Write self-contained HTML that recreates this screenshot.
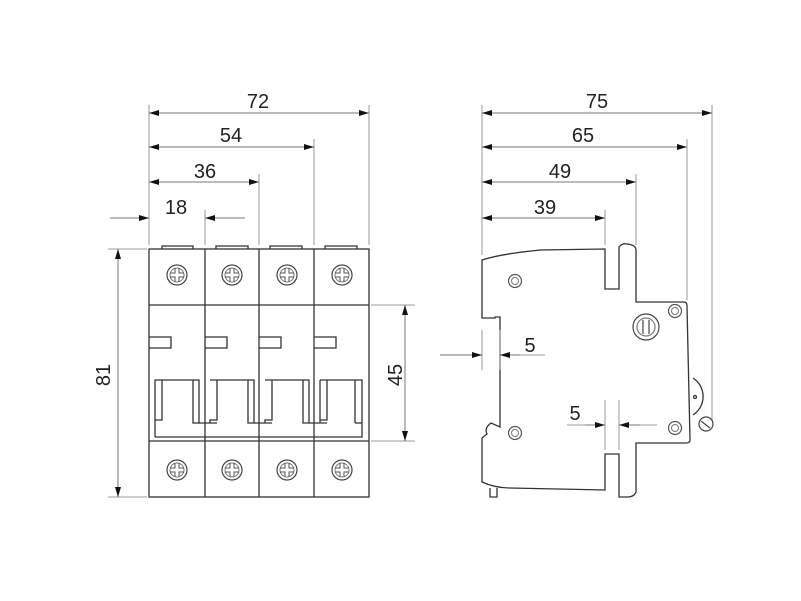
<!DOCTYPE html>
<html><head><style>body{margin:0;background:#fff}svg{display:block}text{font-family:"Liberation Sans",sans-serif;font-size:20px;fill:#222}</style></head>
<body>
<svg width="801" height="601" viewBox="0 0 801 601" xmlns="http://www.w3.org/2000/svg">
<defs>
<marker id="a" viewBox="0 0 10 6" refX="10" refY="3" markerWidth="10" markerHeight="6" orient="auto-start-reverse" markerUnits="userSpaceOnUse"><path d="M0,0L10,3L0,6z" fill="#111"/></marker>
<g id="scr"><circle r="10" fill="#fff" stroke="#444" stroke-width="1.2"/><circle r="7" fill="none" stroke="#777" stroke-width="1"/><path d="M-2,-7V-2H-7M2,-7V-2H7M-2,7V2H-7M2,7V2H7" fill="none" stroke="#555" stroke-width="1"/></g>
<g id="ring"><circle r="6.5" fill="#fff" stroke="#555" stroke-width="1.2"/><circle r="3.5" fill="none" stroke="#777" stroke-width="1"/></g>
</defs>
<g stroke="#999" stroke-width="1" fill="none">
<path d="M149,105V245M205,210V245M259,174V245M314,139V245M369,105V245"/>
<path d="M108,249H147M108,497H147M371,305H415M371,441H415"/>
<path d="M482,105V255M605,210V245M636,174V245M687,139V300M712,105V420"/>
</g>
<g stroke="#777" stroke-width="1" fill="none" marker-start="url(#a)" marker-end="url(#a)">
<path d="M149,113H369"/><path d="M149,147H314"/><path d="M149,182H259"/>
<path d="M118,249V497"/><path d="M405,305V441"/>
<path d="M482,113H712"/><path d="M482,147H687"/><path d="M482,182H636"/><path d="M482,218H605"/>
</g>
<g stroke="#777" stroke-width="1" fill="none">
<path d="M110,218H149" marker-end="url(#a)"/><path d="M245,218H205" marker-end="url(#a)"/>
</g>
<text x="258" y="108" text-anchor="middle">72</text>
<text x="231" y="142" text-anchor="middle">54</text>
<text x="205" y="178" text-anchor="middle">36</text>
<text x="176" y="214" text-anchor="middle">18</text>
<text x="597" y="108" text-anchor="middle">75</text>
<text x="583" y="142" text-anchor="middle">65</text>
<text x="560" y="178" text-anchor="middle">49</text>
<text x="545" y="214" text-anchor="middle">39</text>
<text transform="translate(110,375) rotate(-90)" text-anchor="middle">81</text>
<text transform="translate(402,375) rotate(-90)" text-anchor="middle">45</text>
<!-- front body -->
<g stroke="#333" stroke-width="1.3" fill="none">
<path d="M162,249V246H193V249M216,249V246H248V249M270,249V246H302V249M325,249V246H357V249"/>
<rect x="149" y="249" width="220" height="248" fill="#fff"/>
<path d="M149,305H369M149,441H369M205,249V497M259,249V497M314,249V497"/>
<path d="M149,337H171V348H149M205,337H227V348H205M259,337H281V348H259M314,337H336V348H314"/>
<path d="M155,437V380H199V423H193V380M162,380V420H155"/>
<path d="M210,380H254V423H248V380M217,380V420H210V423M199,423H217"/>
<path d="M265,380H309V423H303V380M272,380V420H265V423M254,423H272"/>
<path d="M320,380H362V437H155M355,380V423M320,380V420M327,380V420H320V423M309,423H327"/>
<path d="M355,423H362"/>
</g>
<use href="#scr" x="177" y="275"/><use href="#scr" x="232" y="275"/><use href="#scr" x="287" y="275"/><use href="#scr" x="342" y="275"/>
<use href="#scr" x="177" y="470"/><use href="#scr" x="232" y="470"/><use href="#scr" x="287" y="470"/><use href="#scr" x="342" y="470"/>
<!-- side body -->
<g stroke="#333" stroke-width="1.3" fill="#fff">
<path d="M482,260Q500,254 540,250L605,249V289H619V247Q622,243 627,244Q636,245 636,250V302H684Q687,302 687,306L690,440Q690,443 686,443H636V492Q634,497 628,497H619V454H605V490L510,488Q495,488 482,482V438L487,434Q484,428 491,423L500,427V317H495V318H482Z"/>
<path d="M490,488V497H497V488"/>
<path d="M693,378A22,22 0 0 1 693,415" fill="none"/>
<circle cx="695" cy="397" r="1.5" fill="none"/>
</g>
<use href="#ring" x="515" y="281"/><use href="#ring" x="515" y="433"/><use href="#ring" x="675" y="311"/><use href="#ring" x="675" y="428"/>
<g stroke="#444" stroke-width="1.2" fill="#fff">
<circle cx="646" cy="327" r="13"/><circle cx="646" cy="327" r="9" fill="none" stroke="#777"/>
<path d="M643,320V334M649,320V334" fill="none"/>
<circle cx="706" cy="424" r="7"/><path d="M701,421L710,428" fill="none"/>
</g>
<!-- small 5 dims over body -->
<g stroke="#999" stroke-width="1" fill="none">
<path d="M482,330V370M500,330V370M605,400V450M619,400V450"/>
<path d="M500,355H545M567,425H605M619,425H657"/>
</g>
<g stroke="#777" stroke-width="1" fill="none">
<path d="M440,355H482" marker-end="url(#a)"/><path d="M520,355H500" marker-end="url(#a)"/>
<path d="M585,425H605" marker-end="url(#a)"/><path d="M640,425H619" marker-end="url(#a)"/>
</g>
<text x="530" y="352" text-anchor="middle">5</text>
<text x="575" y="420" text-anchor="middle">5</text>
</svg>
</body></html>
